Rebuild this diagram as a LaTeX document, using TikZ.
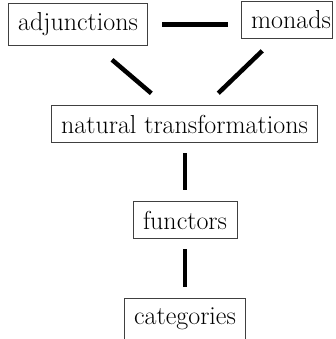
\documentclass[tikz,border=0pt]{standalone}
\usepackage{fontspec}

\begin{document}
\begin{tikzpicture}[x=1pt,y=-1pt,
  concept/.style={draw=black!75, line width=0.8pt, inner xsep=10pt, inner ysep=9.5pt,
    font=\fontsize{26}{30}\selectfont, anchor=north},
  link/.style={line width=4.5pt}]
\useasboundingbox (0,0) rectangle (335,339);
% Top row
\node [concept] (adj) at (78,3) {adjunctions};
\node [concept, inner xsep=1pt, text width=89pt, align=right] (mon) at (286.5,1) {monads};
% Middle
\node [concept] (nat) at (184.5,105) {natural transformations};
\node [concept] (fun) at (185,201) {functors};
% Bottom
\node [concept] (cat) at (185,298) {categories};
% adjunctions -- monads
\draw [link, shorten <=14pt, shorten >=13pt] (adj.east) -- (adj.east -| mon.west);
% adjunctions -- natural transformations
\draw [link, shorten <=21pt, shorten >=18pt] ([xshift=18pt]adj.south) -- ([xshift=-19.5pt]nat.north);
% monads -- natural transformations
\draw [link, shorten <=17pt, shorten >=17pt] ([xshift=-12pt]mon.south) -- ([xshift=21.5pt]nat.north);
% natural transformations -- functors
\draw [link, shorten <=10pt, shorten >=11pt] (nat.south -| fun.north) -- (fun.north);
% functors -- categories
\draw [link, shorten <=10pt, shorten >=11pt] (fun.south) -- (cat.north);
\end{tikzpicture}
\end{document}
